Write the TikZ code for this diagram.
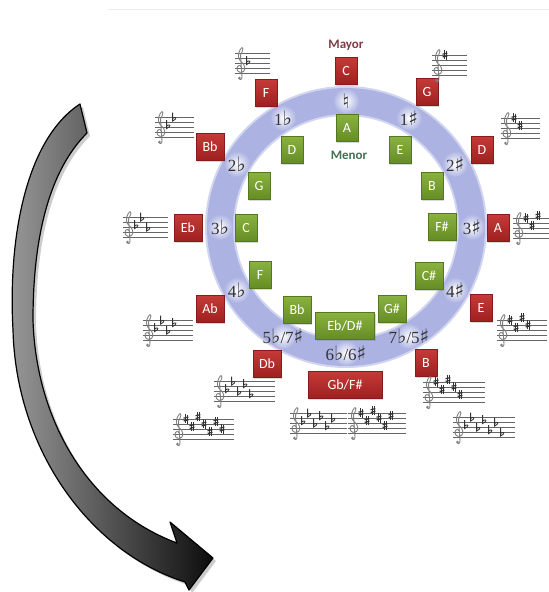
\documentclass[tikz,border=0pt]{standalone}
\usepackage{fontspec}
\setmainfont{Liberation Serif}
\newfontfamily\labelfont{Carlito}
\newfontfamily\musicfont{DejaVu Sans}
\usetikzlibrary{shadows,calc}

\definecolor{ringblue}{RGB}{172,179,226}
\definecolor{redtop}{RGB}{196,58,56}
\definecolor{redbot}{RGB}{158,32,32}
\definecolor{greentop}{RGB}{138,178,64}
\definecolor{greenbot}{RGB}{100,140,36}
\definecolor{mayorc}{RGB}{128,58,72}
\definecolor{menorc}{RGB}{66,112,82}

\newcommand\accsharp{{\musicfont\fontsize{20}{20}\selectfont ♯}}
\newcommand\accflat{{\musicfont\fontsize{20}{20}\selectfont ♭}}
\newcommand\accnat{{\musicfont\fontsize{20}{20}\selectfont ♮}}

\tikzset{
  keybox/.style={rectangle, minimum height=27pt, minimum width=22pt, inner sep=1pt,
    text=white, font=\labelfont\fontsize{14}{14}\selectfont, line width=0.4pt,
    drop shadow={opacity=0.3, shadow xshift=1.2pt, shadow yshift=-1.2pt}},
  majorbox/.style={keybox, top color=redtop, bottom color=redbot, draw=redbot!85!black},
  minorbox/.style={keybox, top color=greentop, bottom color=greenbot, draw=greenbot!85!black},
  twoletter/.style={minimum width=28pt},
  ringlabel/.style={font=\fontsize{17}{17}\selectfont, text=black!80, inner sep=0pt},
  staffline/.style={draw=black!60, line width=0.6pt},
  clefline/.style={draw=black!50, line width=0.9pt},
  accid/.style={draw=black!80},
}

% accidentals and clef, in staff units (px, y downward, top line at 0)
\newcommand\sharpsign[2]{%
  \draw[accid, line width=0.6pt] (#1-1,#2-4.6) -- (#1-1,#2+4.2) (#1+1,#2-4.2) -- (#1+1,#2+4.6);
  \draw[accid, line width=1.2pt] (#1-2.4,#2-0.8) -- (#1+2.4,#2-1.9) (#1-2.4,#2+1.9) -- (#1+2.4,#2+0.8);}
\newcommand\flatsign[2]{%
  \draw[accid, line width=0.8pt] (#1-1.4,#2-6.8) -- (#1-1.4,#2+1.6)
    .. controls (#1+3.2,#2-0.6) and (#1+2.8,#2-3.8) .. (#1-1.4,#2-1.1);}
\newcommand\trebleclef{%
  \draw[clefline] (6.5,14.5) .. controls (5.5,11.5) and (2,12) .. (2,15.5)
    .. controls (2,19) and (6,20.5) .. (8.5,18.5)
    .. controls (11,16) and (9.5,11) .. (6.5,9)
    .. controls (3,6.5) and (2.5,1) .. (5,-3)
    .. controls (6.5,-5.5) and (8,-6.5) .. (8,-4)
    .. controls (8,-1.5) and (6,0) .. (5.5,2)
    -- (7,24) .. controls (7.2,27) and (4,27.5) .. (3.8,25.5);
  \fill[black!50] (4.4,25) circle[radius=1.4pt];}
\newcommand\sharpstaff[4]{%
  \begin{scope}[shift={(#1,#2)}]
    \foreach \l in {0,5,10,15,20} \draw[staffline] (0,\l) -- (#3,\l);
    \trebleclef
    \foreach \p [count=\i] in {8,5,9,6,3,7,4} {%
      \ifnum\i>#4\relax\else
        \pgfmathsetmacro\ax{7+6*\i}\pgfmathsetmacro\ay{20-2.5*\p}%
        \sharpsign{\ax}{\ay}%
      \fi}
  \end{scope}}
\newcommand\flatstaff[4]{%
  \begin{scope}[shift={(#1,#2)}]
    \foreach \l in {0,5,10,15,20} \draw[staffline] (0,\l) -- (#3,\l);
    \trebleclef
    \foreach \p [count=\i] in {4,7,3,6,2,5,1} {%
      \ifnum\i>#4\relax\else
        \pgfmathsetmacro\ax{7+6*\i}\pgfmathsetmacro\ay{20-2.5*\p}%
        \flatsign{\ax}{\ay}%
      \fi}
  \end{scope}}

\begin{document}
\begin{tikzpicture}[x=1pt, y=-1pt]
\useasboundingbox (0,0) rectangle (549,592);

% faint rule along the top
\draw[black!7, line width=0.8pt] (108,9) -- (549,9);

% curved block arrow: shadow, then body
\fill[black!20, shift={(3,3)}] (80,104) -- (87,133) .. controls (50,170) and (33,235) .. (33,320)
  .. controls (36,420) and (88,510) .. (177,543) -- (170,522) -- (213,558) -- (189,590) -- (185,582)
  .. controls (90,552) and (16,450) .. (13,330) .. controls (8,240) and (25,140) .. (80,104) -- cycle;
\draw[black, line width=1.2pt, line join=round, left color=black!40, right color=black!95]
  (80,104) -- (87,133) .. controls (50,170) and (33,235) .. (33,320)
  .. controls (36,420) and (88,510) .. (177,543) -- (170,522) -- (213,558) -- (189,590) -- (185,582)
  .. controls (90,552) and (16,450) .. (13,330) .. controls (8,240) and (25,140) .. (80,104) -- cycle;

% the circle of fifths ring
\coordinate (ctr) at (346,227);
\draw[ringblue!55, line width=30pt] (ctr) circle[radius=126pt];
\draw[ringblue, line width=26pt] (ctr) circle[radius=126pt];
\foreach \k in {0,...,11}
  \shade[inner color=white, outer color=ringblue] ($(ctr)+(90-30*\k:126pt)$) circle[radius=13pt];

% key-signature counts on the ring
\node[ringlabel] (n0)  at ($(ctr)+(90:126pt)$)  {\accnat};
\node[ringlabel] (n1)  at ($(ctr)+(60:126pt)$)  {1\accsharp};
\node[ringlabel] (n2)  at ($(ctr)+(30:126pt)$)  {2\accsharp};
\node[ringlabel] (n3)  at ($(ctr)+(0:126pt)$)   {3\accsharp};
\node[ringlabel] (n4)  at ($(ctr)+(-30:126pt)$) {4\accsharp};
\node[ringlabel] (n5)  at ($(ctr)+(-60:126pt)$) {7\accflat/5\accsharp};
\node[ringlabel] (n6)  at ($(ctr)+(-90:126pt)$) {6\accflat/6\accsharp};
\node[ringlabel] (n7)  at ($(ctr)+(-120:126pt)$) {5\accflat/7\accsharp};
\node[ringlabel] (n8)  at ($(ctr)+(-150:126pt)$) {4\accflat};
\node[ringlabel] (n9)  at ($(ctr)+(180:126pt)$) {3\accflat};
\node[ringlabel] (n10) at ($(ctr)+(150:126pt)$) {2\accflat};
\node[ringlabel] (n11) at ($(ctr)+(120:126pt)$) {1\accflat};

% headings
\node[font=\labelfont\bfseries\fontsize{13}{13}\selectfont, text=mayorc] (mayor) at (346,45) {Mayor};
\node[font=\labelfont\bfseries\fontsize{13}{13}\selectfont, text=menorc] (menor) at (349,155) {Menor};

% major keys
\node[majorbox] (M-C)  at (346,71)  {C};
\node[majorbox] (M-G)  at (427,92)  {G};
\node[majorbox] (M-D)  at (482,150) {D};
\node[majorbox] (M-A)  at (498,228) {A};
\node[majorbox] (M-E)  at (481,308) {E};
\node[majorbox] (M-B)  at (426,363) {B};
\node[majorbox, minimum width=74pt] (M-Gb) at (345,385) {Gb/F\#};
\node[majorbox, twoletter] (M-Db) at (267,364) {Db};
\node[majorbox, twoletter] (M-Ab) at (210,309) {Ab};
\node[majorbox, twoletter] (M-Eb) at (188,228) {Eb};
\node[majorbox, twoletter] (M-Bb) at (210,147) {Bb};
\node[majorbox] (M-F)  at (266,93)  {F};

% relative minor keys
\node[minorbox] (m-A)  at (347,128) {A};
\node[minorbox] (m-E)  at (400,150) {E};
\node[minorbox] (m-B)  at (432,186) {B};
\node[minorbox, twoletter] (m-Fs) at (442,227) {F\#};
\node[minorbox, twoletter] (m-Cs) at (429,276) {C\#};
\node[minorbox, twoletter] (m-Gs) at (392,309) {G\#};
\node[minorbox, minimum width=59pt] (m-Eb) at (345,326) {Eb/D\#};
\node[minorbox, twoletter] (m-Bb) at (297,310) {Bb};
\node[minorbox] (m-F)  at (260,275) {F};
\node[minorbox] (m-C)  at (246,228) {C};
\node[minorbox] (m-G)  at (259,186) {G};
\node[minorbox] (m-D)  at (292,150) {D};

% key signatures on small staves
\flatstaff{235}{53}{35}{1}
\sharpstaff{432}{55}{35}{1}
\flatstaff{155}{117}{39}{2}
\sharpstaff{501}{118}{39}{2}
\flatstaff{123}{217}{45}{3}
\sharpstaff{513}{218}{36}{3}
\flatstaff{143}{320}{50}{4}
\sharpstaff{497}{320}{50}{4}
\flatstaff{214}{381}{61}{5}
\sharpstaff{423}{382}{62}{5}
\sharpstaff{173}{419}{61}{7}
\flatstaff{290}{413}{57}{6}
\sharpstaff{348}{413}{58}{6}
\flatstaff{453}{417}{62}{7}
\end{tikzpicture}
\end{document}
